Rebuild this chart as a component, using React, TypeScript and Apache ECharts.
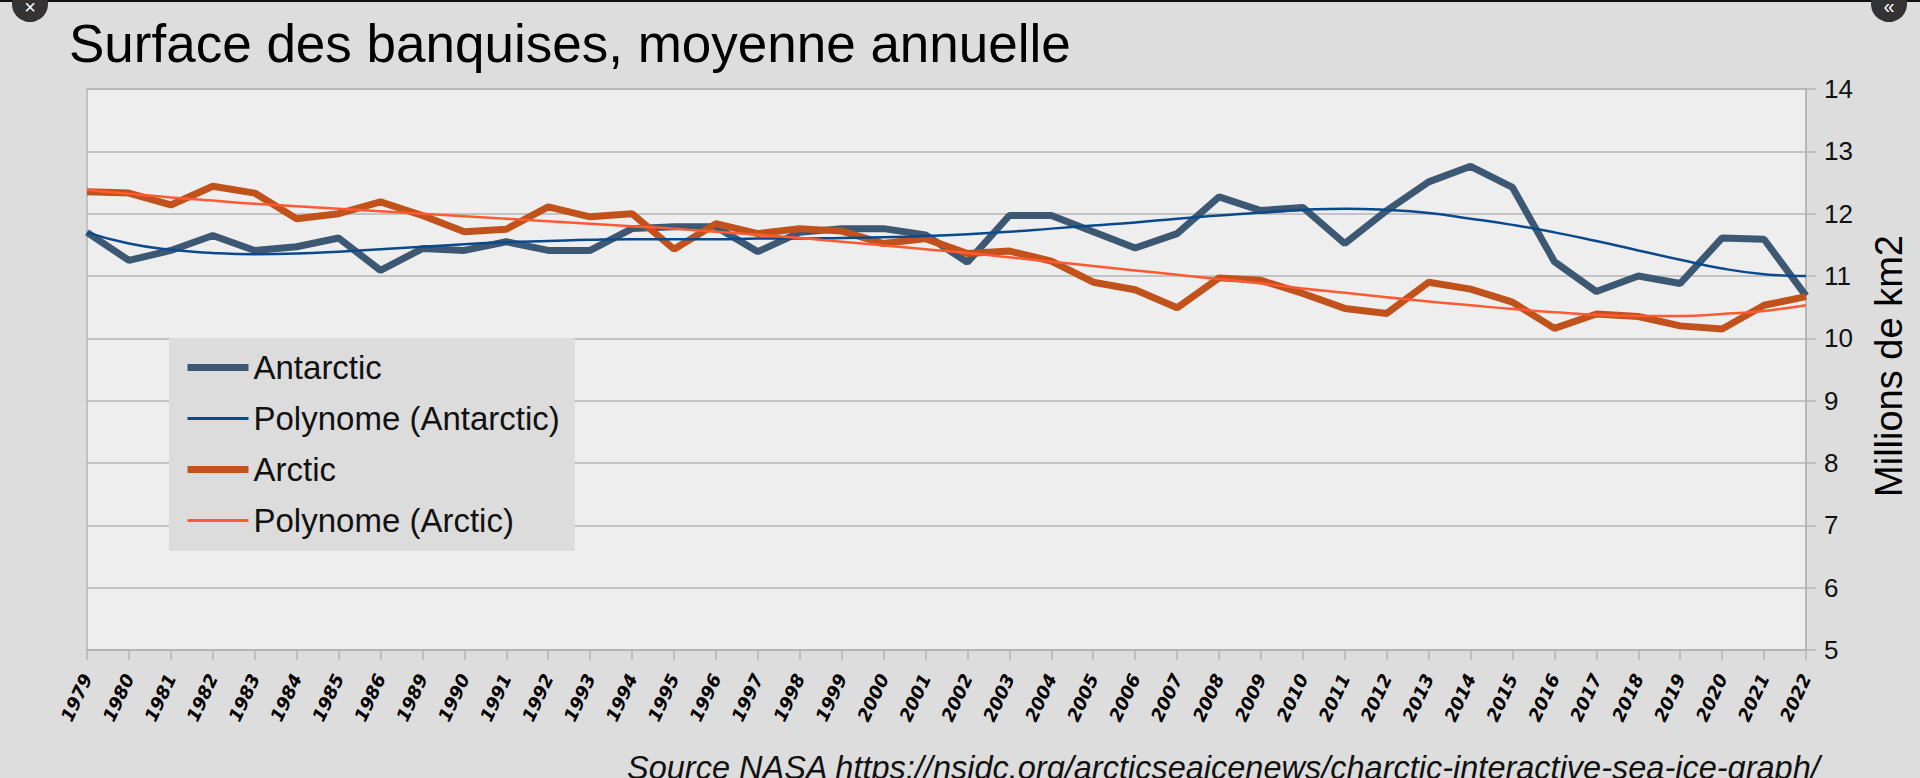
import React, { useEffect, useRef } from "react";
import * as echarts from "echarts";

const years = [
  "1979", "1980", "1981", "1982", "1983", "1984", "1985", "1986", "1989", "1990",
  "1991", "1992", "1993", "1994", "1995", "1996", "1997", "1998", "1999", "2000",
  "2001", "2002", "2003", "2004", "2005", "2006", "2007", "2008", "2009", "2010",
  "2011", "2012", "2013", "2014", "2015", "2016", "2017", "2018", "2019", "2020",
  "2021", "2022",
];

const antarctic = [
  11.70, 11.25, 11.41, 11.65, 11.41, 11.47, 11.61, 11.09, 11.44, 11.41,
  11.55, 11.41, 11.41, 11.76, 11.79, 11.79, 11.39, 11.70, 11.76, 11.76,
  11.66, 11.22, 11.97, 11.97, 11.71, 11.45, 11.68, 12.27, 12.05, 12.10,
  11.52, 12.05, 12.51, 12.76, 12.42, 11.23, 10.75, 11.00, 10.88, 11.61,
  11.59, 10.68,
];

const arctic = [
  12.35, 12.33, 12.14, 12.44, 12.33, 11.92, 12.00, 12.19, 11.97, 11.71,
  11.75, 12.11, 11.95, 12.00, 11.43, 11.84, 11.68, 11.76, 11.72, 11.52,
  11.60, 11.36, 11.40, 11.24, 10.90, 10.78, 10.49, 10.97, 10.93, 10.72,
  10.48, 10.40, 10.90, 10.79, 10.58, 10.16, 10.39, 10.35, 10.20, 10.15,
  10.53, 10.67,
];

const polyAntarctic = [
  11.70, 11.52, 11.42, 11.37, 11.35, 11.36, 11.39, 11.43, 11.47, 11.51,
  11.54, 11.56, 11.58, 11.59, 11.59, 11.59, 11.60, 11.60, 11.61, 11.62,
  11.64, 11.67, 11.71, 11.76, 11.81, 11.86, 11.92, 11.97, 12.02, 12.06,
  12.08, 12.06, 12.01, 11.92, 11.82, 11.70, 11.56, 11.41, 11.26, 11.12,
  11.03, 11.00,
];

const polyArctic = [
  12.38, 12.32, 12.26, 12.21, 12.16, 12.12, 12.08, 12.04, 12.00, 11.96,
  11.92, 11.88, 11.84, 11.80, 11.76, 11.71, 11.66, 11.61, 11.55, 11.49,
  11.43, 11.37, 11.30, 11.23, 11.16, 11.09, 11.02, 10.95, 10.88, 10.80,
  10.73, 10.66, 10.59, 10.53, 10.47, 10.42, 10.38, 10.36, 10.36, 10.39,
  10.44, 10.53,
];

const yTicks = { min: 5, max: 14, interval: 1 };

const TITLE = "Surface des banquises, moyenne annuelle";
const Y_NAME = "Millions de km2";
const SOURCE = "Source NASA https://nsidc.org/arcticseaicenews/charctic-interactive-sea-ice-graph/";

const C_ANT = "#3d5872";
const C_ARC = "#c2521b";
const C_PANT = "#0a4a8c";
const C_PARC = "#ff5a32";
const GRID_C = "#b5b5b5";
const FONT = "'Liberation Sans', Arial, sans-serif";

export default function App() {
  const ref = useRef<HTMLDivElement>(null);

  useEffect(() => {
    if (!ref.current) return;
    const chart = echarts.init(ref.current, null, { renderer: "svg" });
    chart.setOption({
      animation: false,
      backgroundColor: "#dddddd",
      title: {
        text: TITLE,
        left: 69,
        top: 17,
        padding: 0,
        textStyle: { fontFamily: FONT, fontSize: 53, fontWeight: "normal", color: "#000" },
      },
      legend: {
        orient: "vertical",
        left: 169,
        top: 338,
        padding: [13, 15, 14, 15],
        backgroundColor: "#dcdcdc",
        itemWidth: 61,
        itemHeight: 14,
        itemGap: 18,
        itemStyle: { color: "rgba(0,0,0,0)", borderWidth: 0, opacity: 0 },
        selectedMode: false,
        textStyle: { fontFamily: FONT, fontSize: 33, color: "#111", lineHeight: 32 },
        data: [
          { name: "Antarctic", lineStyle: { width: 7, color: C_ANT } },
          { name: "Polynome (Antarctic)", lineStyle: { width: 3, color: C_PANT } },
          { name: "Arctic", lineStyle: { width: 7, color: C_ARC } },
          { name: "Polynome (Arctic)", lineStyle: { width: 3, color: C_PARC } },
        ],
      },
      grid: {
        left: 87,
        top: 89,
        width: 1719,
        height: 561,
        show: true,
        backgroundColor: "#eeeeee",
        borderColor: GRID_C,
        borderWidth: 1.5,
        containLabel: false,
      },
      xAxis: {
        type: "category",
        data: years,
        boundaryGap: false,
        axisLine: { show: true, lineStyle: { color: GRID_C, width: 1.5 } },
        axisTick: { show: true, length: 10, interval: 0, lineStyle: { color: GRID_C, width: 1.5 } },
        splitLine: { show: false },
        axisLabel: {
          interval: 0,
          rotate: 65,
          margin: 25,
          fontFamily: "'DejaVu Sans', sans-serif",
          fontWeight: "bold",
          fontStyle: "italic",
          fontSize: 18,
          color: "#000",
        },
      },
      yAxis: {
        type: "value",
        position: "right",
        min: yTicks.min,
        max: yTicks.max,
        interval: yTicks.interval,
        axisLine: { show: true, lineStyle: { color: GRID_C, width: 1.5 } },
        axisTick: { show: true, length: 10, lineStyle: { color: GRID_C, width: 1.5 } },
        splitLine: { show: true, lineStyle: { color: GRID_C, width: 1.5 } },
        axisLabel: { margin: 18, fontFamily: FONT, fontSize: 26, color: "#111" },
      },
      series: [
        {
          name: "Antarctic",
          type: "line",
          data: antarctic,
          symbol: "none",
          lineStyle: { width: 7, color: C_ANT },
          itemStyle: { color: C_ANT },
        },
        {
          name: "Arctic",
          type: "line",
          data: arctic,
          symbol: "none",
          lineStyle: { width: 7, color: C_ARC },
          itemStyle: { color: C_ARC },
        },
        {
          name: "Polynome (Antarctic)",
          type: "line",
          data: polyAntarctic,
          symbol: "none",
          smooth: true,
          lineStyle: { width: 2.5, color: C_PANT },
          itemStyle: { color: C_PANT },
        },
        {
          name: "Polynome (Arctic)",
          type: "line",
          data: polyArctic,
          symbol: "none",
          smooth: true,
          lineStyle: { width: 2.5, color: C_PARC },
          itemStyle: { color: C_PARC },
        },
      ],
      graphic: [
        {
          type: "text",
          x: 1889,
          y: 366,
          rotation: Math.PI / 2,
          style: {
            text: Y_NAME,
            fontFamily: FONT,
            fontSize: 38,
            fill: "#000",
            align: "center",
            verticalAlign: "middle",
          },
        },
        {
          type: "text",
          x: 627,
          y: 751,
          style: {
            text: SOURCE,
            fontFamily: FONT,
            fontSize: 32.5,
            fontStyle: "italic",
            fill: "#111",
            align: "left",
            verticalAlign: "top",
          },
        },
        { type: "rect", shape: { x: 0, y: 0, width: 1920, height: 2 }, style: { fill: "#111" } },
        { type: "circle", shape: { cx: 30, cy: 4, r: 18 }, style: { fill: "#333" } },
        {
          type: "text",
          x: 30,
          y: 7,
          style: { text: "×", fontFamily: FONT, fontSize: 20, fill: "#fff", align: "center", verticalAlign: "middle" },
        },
        { type: "circle", shape: { cx: 1889, cy: 4, r: 18 }, style: { fill: "#333" } },
        {
          type: "text",
          x: 1889,
          y: 6,
          style: { text: "«", fontFamily: FONT, fontSize: 20, fill: "#fff", align: "center", verticalAlign: "middle" },
        },
      ],
    });
    return () => chart.dispose();
  }, []);

  return (
    <div
      ref={ref}
      style={{ position: "fixed", left: 0, top: 0, width: 1920, height: 778 }}
    />
  );
}
